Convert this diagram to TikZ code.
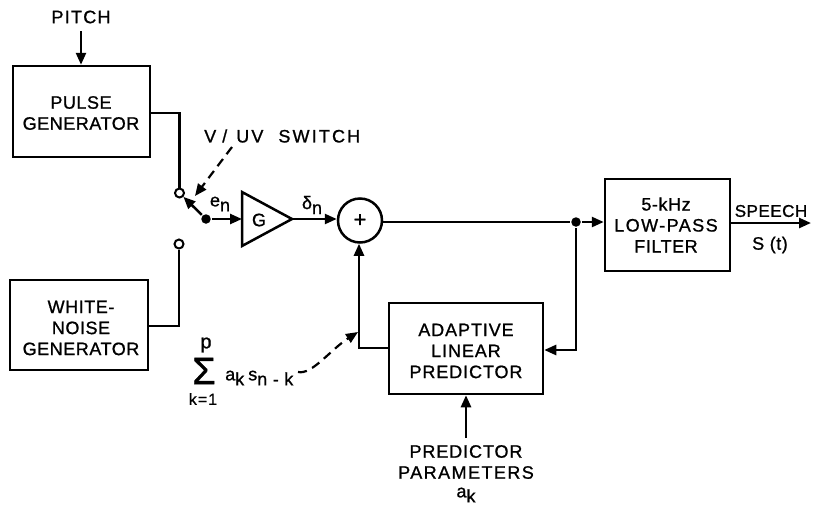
\documentclass[tikz,border=0pt]{standalone}
\usepackage{fontspec}
\setmainfont{Liberation Sans}[FakeBold=1,LetterSpace=3]
\usetikzlibrary{arrows.meta,calc}
\newcommand{\lbl}{\fontsize{18}{21}\selectfont}
\newcommand{\subx}[1]{\raisebox{-5pt}{\fontsize{18}{18}\selectfont #1}}
\tikzset{
  blk/.style={draw,rectangle,inner sep=0pt,align=center,font=\lbl},
  txt/.style={inner sep=0pt,align=center,font=\lbl},
  arr/.style={-{Triangle[length=12pt,width=10pt]}},
  term/.style={draw,circle,fill=white,minimum size=9pt,inner sep=0pt,line width=2pt},
  jun/.style={circle,fill=black,minimum size=9.5pt,inner sep=0pt},
  dsh/.style={dash pattern=on 9pt off 6pt,line width=2.2pt},
}
\begin{document}
\begin{tikzpicture}[x=1pt,y=-1pt,line width=2.5pt,font=\lbl]
\useasboundingbox (0,0) rectangle (820,507);
% blocks
\node[blk,minimum width=137pt,minimum height=91pt] (pulse) at (81.5,111.5) {};
\node[txt] (pulsetxt) at (81,113) {PULSE\\GENERATOR};
\node[blk,minimum width=138pt,minimum height=90pt] (white) at (79,325) {};
\node[txt] (whitetxt) at (81,328) {WHITE-\\NOISE\\GENERATOR};
\node[blk,minimum width=154pt,minimum height=91pt] (pred) at (466,348.5) {};
\node[txt] (predtxt) at (466,351) {\addfontfeature{LetterSpace=5}ADAPTIVE\\\addfontfeature{LetterSpace=5}LINEAR\\\addfontfeature{LetterSpace=5}PREDICTOR};
\node[blk,minimum width=125pt,minimum height=92pt] (filt) at (667.5,225) {};
\node[txt] (filttxt) at (666,225) {5-kHz\\\addfontfeature{LetterSpace=8}LOW-PASS\\FILTER};
% labels
\node[txt] (pitch) at (81,17) {\addfontfeature{LetterSpace=7}PITCH};
\node[txt,anchor=west] (sw) at (203,136) {\addfontfeature{LetterSpace=12}V\hspace{6pt}/\hspace{9pt}UV\hspace{15pt}SWITCH};
\node[txt] (params) at (466,462) {\addfontfeature{LetterSpace=5}PREDICTOR\\\addfontfeature{LetterSpace=8}PARAMETERS};
\node[txt] (ak) at (466,495) {a\subx{k}};
\node[txt] (en) at (220,204) {e\subx{n}};
\node[txt] (dn) at (312,205) {δ\subx{n}};
\node[txt] (speech) at (771,211) {\fontsize{17}{18}\selectfont SPEECH};
\node[txt] (st) at (770,245) {S (t)};
% summation label
\node[txt,font=\fontsize{38}{38}\selectfont] (sigma) at (204,371) {Σ};
\node[txt,font=\fontsize{20}{20}\selectfont] (sump) at (206,345) {p};
\node[txt,font=\fontsize{16}{16}\selectfont] (sumk) at (203,399) {k\hspace{1pt}=\hspace{1pt}1};
\node[txt,anchor=west] (sumterm) at (224,378) {a\subx{k}\hspace{4pt}s\subx{n - k}};
\coordinate (sumend) at (298,372);
% gain and adder
\coordinate (gt) at (242,192);
\coordinate (gb) at (242,246);
\coordinate (gr) at (292,219);
\draw[line join=miter] (gt) -- (gr) -- (gb) -- cycle;
\node[txt] (g) at (259,220) {G};
\node[draw,circle,minimum size=44pt,inner sep=0pt,font=\fontsize{22}{22}\selectfont] (sum) at (360,220.5) {+};
% switch
\node[term] (t1) at (179.5,193) {};
\node[term] (t2) at (179,244) {};
\node[jun] (sj) at (206,219) {};
\node[jun] (fj) at (576,222) {};
\coordinate (swtail) at (232,147);
% connectors
\draw[arr] (81,31) -- (pulse.north -| 81,0);
\draw (pulse.east |- 0,113) -| (t1.north);
\draw (white.east |- 0,326) -| (t2.south);
\draw[arr] (sj) -- (t1);
\draw[arr] (sj) -- (gt |- sj);
\draw[arr] (gr) -- (sum.west |- gr);
\draw[dsh,-{Triangle[length=12pt,width=10pt]}] (swtail) -- (195,196);
\draw (sum.east |- fj) -- (fj);
\draw[arr] (fj) -- (filt.west |- fj);
\draw[arr] (filt.east |- 0,223) -- (811,223);
\draw[arr] (fj) -- (576,350) -- (pred.east |- 0,350);
\draw[arr] (pred.west |- 0,348) -- (359,348) -- (sum.south -| 359,0);
\draw[arr] (466,438) -- (pred.south -| 466,0);
\draw[dsh,-{Triangle[length=12pt,width=10pt]}] (sumend) .. controls (312,375) and (330,350) .. (358,332);
\end{tikzpicture}
\end{document}
